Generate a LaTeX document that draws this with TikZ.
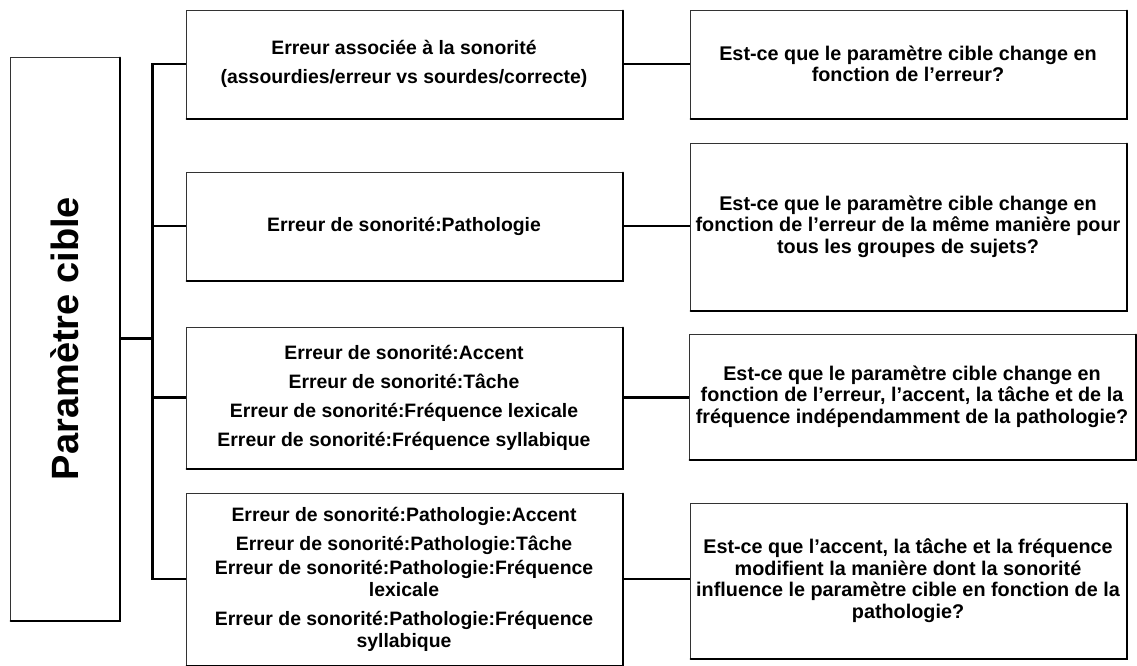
\documentclass[tikz,border=0pt]{standalone}
\usepackage{fontspec}
\setmainfont{Liberation Sans}
\begin{document}
\begin{tikzpicture}[x=1pt,y=-1pt,
  box/.style={draw=black!80,line width=0.8pt,fill=white,inner sep=0pt,
    align=center,font=\fontsize{19.4}{22}\selectfont\bfseries},
  qbox/.style={box,font=\fontsize{19.8}{21.5}\selectfont\bfseries},
  shade/.style={line width=1.8pt,black,line cap=round},
  conn/.style={line width=2.3pt,black}]
\useasboundingbox (0,0) rectangle (1137,666);
\node[box,minimum width=109pt,minimum height=563pt] (L) at (64.5,338.5) {};
\node[rotate=90,font=\fontsize{38}{42}\selectfont\bfseries] (Lt) at (L.center) {Paramètre cible};
\node[box,minimum width=436pt,minimum height=108pt] (B1) at (404,64)
  {Erreur associée à la sonorité\\[7pt](assourdies/erreur vs sourdes/correcte)};
\node[box,minimum width=436pt,minimum height=108pt] (B2) at (404,226)
  {Erreur de sonorité:Pathologie};
\node[box,minimum width=436pt,minimum height=141pt] (B3) at (404,397.5)
  {Erreur de sonorité:Accent\\[7pt]Erreur de sonorité:Tâche\\[7pt]Erreur de sonorité:Fréquence lexicale\\[7pt]Erreur de sonorité:Fréquence syllabique};
\node[box,minimum width=436pt,minimum height=172pt] (B4) at (404,579)
  {Erreur de sonorité:Pathologie:Accent\\[7pt]Erreur de sonorité:Pathologie:Tâche\\[2pt]Erreur de sonorité:Pathologie:Fréquence\\lexicale\\[7pt]Erreur de sonorité:Pathologie:Fréquence\\syllabique};
\node[qbox,minimum width=436pt,minimum height=108pt] (R1) at (908,64)
  {Est-ce que le paramètre cible change en\\fonction de l’erreur?};
\node[qbox,minimum width=436pt,minimum height=167pt] (R2) at (908,226.5)
  {Est-ce que le paramètre cible change en\\fonction de l’erreur de la même manière pour\\tous les groupes de sujets?};
\node[qbox,minimum width=446pt,minimum height=125pt] (R3) at (912,396.5)
  {Est-ce que le paramètre cible change en\\fonction de l’erreur, l’accent, la tâche et de la\\fréquence indépendamment de la pathologie?};
\node[qbox,minimum width=436pt,minimum height=155pt] (R4) at (908,580.5)
  {Est-ce que l’accent, la tâche et la fréquence\\modifient la manière dont la sonorité\\influence le paramètre cible en fonction de la\\pathologie?};
\foreach \n in {L,B1,B2,B3,B4,R1,R2,R3,R4}
  \draw[shade] ([xshift=1pt,yshift=-0.6pt]\n.south west) -- ([xshift=0.6pt,yshift=-0.6pt]\n.south east) -- ([xshift=0.6pt,yshift=-1pt]\n.north east);
\coordinate (j) at (152.5,0);
\draw[conn] (L.east) -- (L.east -| j);
\draw[conn] (B1.west) -- (B1.west -| j) -- (B4.west -| j) -- (B4.west);
\draw[conn] (B2.west) -- (B2.west -| j);
\draw[conn] (B3.west) -- (B3.west -| j);
\draw[conn] (B1.east) -- (R1.west);
\draw[conn] (B2.east) -- (B2.east -| R2.west);
\draw[conn] (B3.east) -- (B3.east -| R3.west);
\draw[conn] (B4.east) -- (B4.east -| R4.west);
\end{tikzpicture}
\end{document}
